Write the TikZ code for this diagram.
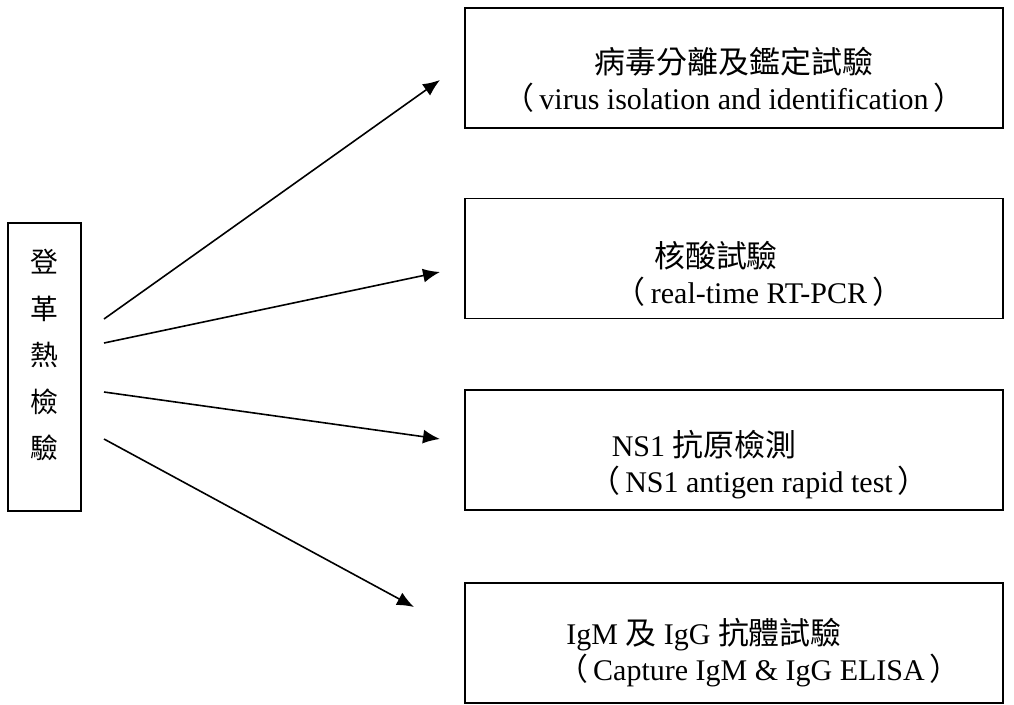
\documentclass[tikz,border=0pt]{standalone}
\usepackage{fontspec}
\setmainfont{Liberation Serif}
\newfontfamily\cjk[Scale=1.03]{Noto Sans CJK TC}
\usetikzlibrary{arrows.meta}

\newcommand{\lparen}{{\cjk （}\hspace{5pt}}
\newcommand{\rparen}{\hspace{5pt}{\cjk ）}}

\tikzset{
    testbox/.style={draw,line width=1.5pt,minimum width=538pt,minimum height=120pt,inner sep=0pt},
    testtext/.style={align=center,inner sep=0pt,font=\fontsize{30}{36}\selectfont},
}

\begin{document}
\begin{tikzpicture}[x=1pt,y=-1pt,>={Latex[length=17pt,width=14pt]}]
    \useasboundingbox (0,0) rectangle (1014,704);
    % dengue test box on the left, one character per line
    \node[draw,line width=1.5pt,minimum width=73pt,minimum height=288pt,inner sep=0pt] (dengue) at (44.5,367) {};
    \node[align=center,inner sep=0pt,font=\cjk\fontsize{27}{46.5}\selectfont] (dengue text) at (44.5,355) {登\\革\\熱\\檢\\驗};
    % the four tests
    \node[testbox] (virus) at (734,68) {};
    \node[testtext] (virus text) at ([yshift=-12pt]virus.center) {{\cjk 病毒分離及鑑定試驗}\\\lparen virus isolation and identification\rparen};
    \node[testbox] (pcr) at (734,258.5) {};
    \node[testtext] (pcr text) at ([yshift=-15pt]pcr.center) {{\cjk 核酸試驗}\hspace*{36pt}\\\hspace*{50pt}\lparen real-time RT-PCR\rparen};
    \node[testbox] (ns1) at (734,450) {};
    \node[testtext] (ns1 text) at ([yshift=-14.5pt]ns1.center) {NS1 {\cjk 抗原檢測}\hspace*{60pt}\\\hspace*{50pt}\lparen NS1 antigen rapid test\rparen};
    \node[testbox] (elisa) at (734,643) {};
    \node[testtext] (elisa text) at ([yshift=-10pt]elisa.center) {IgM {\cjk 及} IgG {\cjk 抗體試驗}\hspace*{60pt}\\\hspace*{50pt}\lparen Capture IgM \& IgG ELISA\rparen};
    % arrow ends
    \coordinate (from virus) at (104,319);
    \coordinate (from pcr) at (104,343);
    \coordinate (from ns1) at (104,392);
    \coordinate (from elisa) at (104,439);
    \coordinate (to virus) at (440,80);
    \coordinate (to pcr) at (440,272);
    \coordinate (to ns1) at (440,439);
    \coordinate (to elisa) at (414,607);
    \draw[line width=1.6pt,->] (from virus) -- (to virus);
    \draw[line width=1.6pt,->] (from pcr) -- (to pcr);
    \draw[line width=1.6pt,->] (from ns1) -- (to ns1);
    \draw[line width=1.6pt,->] (from elisa) -- (to elisa);
\end{tikzpicture}
\end{document}
